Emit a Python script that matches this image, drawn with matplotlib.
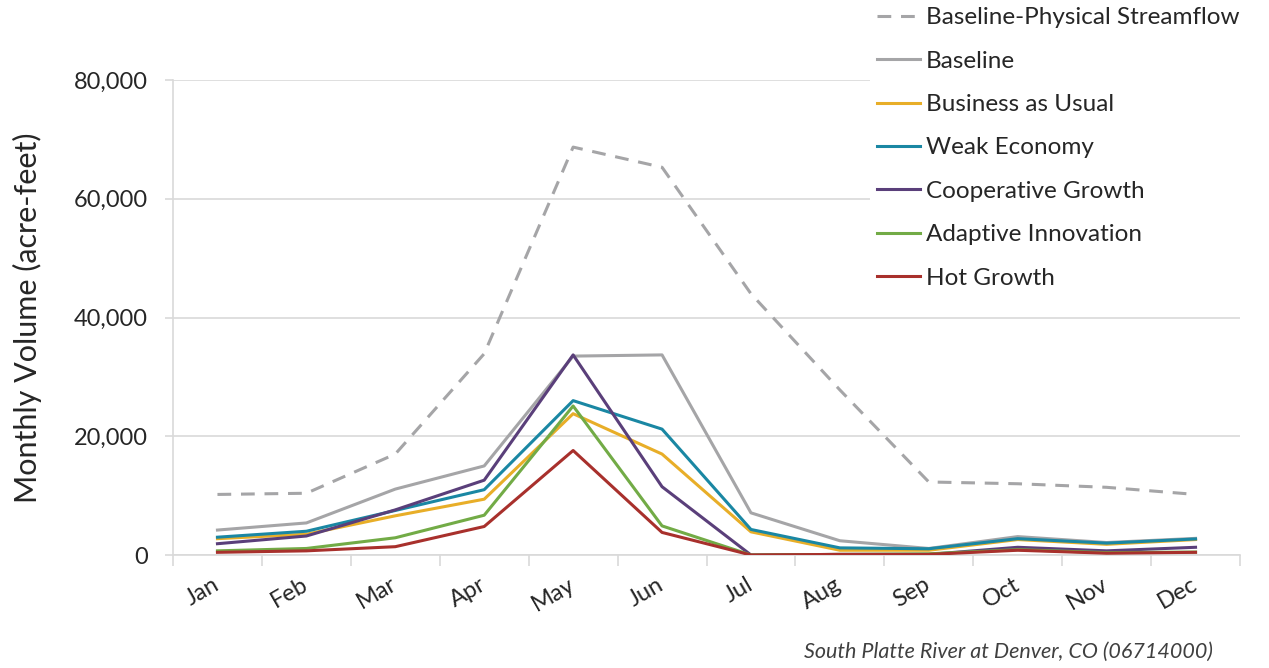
import matplotlib
matplotlib.use("Agg")
import matplotlib.pyplot as plt
import numpy as np

months = ["Jan", "Feb", "Mar", "Apr", "May", "Jun", "Jul", "Aug", "Sep", "Oct", "Nov", "Dec"]

physical = [10200, 10400, 17000, 33900, 68700, 65300, 44000, 27800, 12300, 12000, 11400, 10200]
baseline = [4200, 5400, 11100, 15000, 33500, 33700, 7100, 2400, 1100, 3100, 2100, 2800]
business = [2750, 3500, 6600, 9400, 23800, 17000, 3900, 800, 800, 2600, 1800, 2600]
weak = [3000, 4000, 7500, 11000, 26000, 21200, 4300, 1200, 1050, 2750, 2000, 2700]
coop = [1900, 3200, 7600, 12600, 33700, 11500, 0, 100, 100, 1300, 700, 1300]
adaptive = [700, 1100, 2900, 6700, 25100, 4900, 0, 100, 200, 900, 400, 500]
hot = [450, 700, 1400, 4800, 17600, 3800, 0, 100, 100, 800, 300, 450]

labels = ["Baseline-Physical Streamflow", "Baseline", "Business as Usual", "Weak Economy",
          "Cooperative Growth", "Adaptive Innovation", "Hot Growth"]
colors = ["#a5a5a7", "#a5a5a7", "#e8ae28", "#1a87a3", "#5a3f7a", "#72ab46", "#a8302c"]

plt.rcParams['font.family'] = ['Lato', 'DejaVu Sans']

fig = plt.figure(figsize=(12.69, 6.68), dpi=100)
ax = fig.add_axes([173/1269, 1-555/668, (1240-173)/1269, (555-80)/668])

x = np.arange(len(months))
series = [physical, baseline, business, weak, coop, adaptive, hot]
for i, (s, lab, c) in enumerate(zip(series, labels, colors)):
    ls = (0, (4.5, 3.2)) if i == 0 else '-'
    ax.plot(x, s, color=c, lw=2.2, ls=ls, label=lab, zorder=3)

ax.set_xlim(-0.5, 11.5)
ax.set_ylim(0, 80000)
ax.set_yticks([0, 20000, 40000, 60000, 80000])
ax.set_yticklabels([f"{v:,}" for v in [0, 20000, 40000, 60000, 80000]], fontsize=17, color="#262626")
ax.yaxis.grid(True, color="#d9d9d9", lw=1.2, zorder=0)
ax.set_axisbelow(True)
ax.tick_params(axis='y', length=6, width=1.2, color="#d9d9d9", pad=12)

ax.set_xticks(x)
ax.set_xticklabels(months, rotation=30, fontsize=17, color="#262626",
                   ha='right', va='center', rotation_mode='anchor')
ax.tick_params(axis='x', which='major', length=0, pad=20)
ax.set_xticks(np.arange(-0.5, 12, 1), minor=True)
ax.tick_params(axis='x', which='minor', length=8, color="#d9d9d9", width=1.2, direction='out')

for sp in ['top', 'right']:
    ax.spines[sp].set_visible(False)
for sp in ['left', 'bottom']:
    ax.spines[sp].set_color("#d9d9d9")
    ax.spines[sp].set_linewidth(1.2)

ax.set_ylabel("Monthly Volume (acre-feet)", fontsize=22, color="#262626", labelpad=23)

leg = fig.legend(loc='upper left', bbox_to_anchor=(870/1269, 1.0), fontsize=17.5,
                 frameon=True, handlelength=1.75, handletextpad=0.25, labelspacing=0.92,
                 borderpad=0.3, borderaxespad=0.0)
leg.get_frame().set_facecolor('white')
leg.get_frame().set_edgecolor('none')
leg.get_frame().set_alpha(1)
for t in leg.get_texts():
    t.set_color("#262626")

fig.text(1213/1269, 1-652/668, "South Platte River at Denver, CO (06714000)", ha='right', va='center',
         fontsize=15.5, style='italic', color="#404040")

fig.savefig("out.png", dpi=100)
